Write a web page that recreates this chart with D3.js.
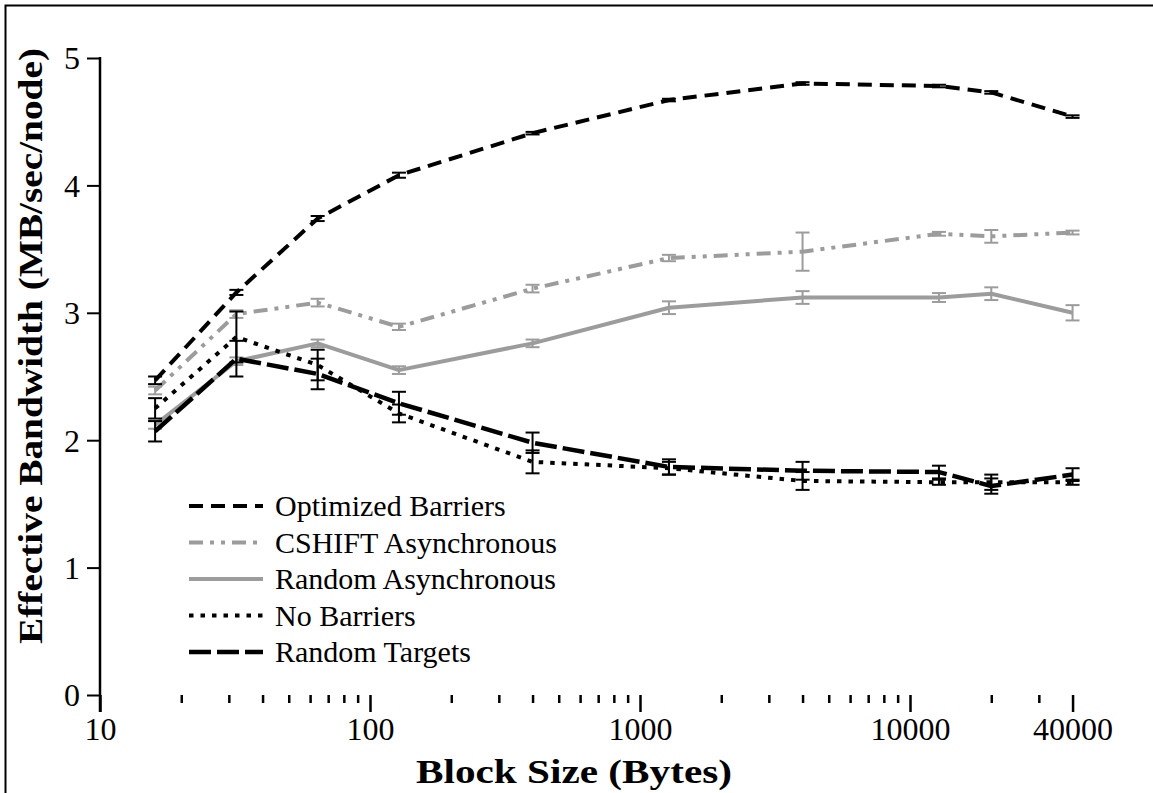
<!DOCTYPE html>
<html>
<head>
<meta charset="utf-8">
<script src="https://cdn.jsdelivr.net/npm/d3@7"></script>
<style>
  html, body { margin: 0; padding: 0; background: #fff; }
  svg { display: block; }
  text { font-family: "Liberation Serif", "Times New Roman", serif; fill: #000; }
</style>
</head>
<body>
<svg id="chart" width="1153" height="793"></svg>
<script>
// ---- data ----
const blockSizes = [16, 32, 64, 128, 400, 1280, 4000, 12800, 20000, 40000];

const seriesNames = ["Optimized Barriers", "CSHIFT Asynchronous", "Random Asynchronous", "No Barriers", "Random Targets"];

const optimizedBarriers    = [2.47, 3.16, 3.74, 4.08, 4.41, 4.67, 4.80, 4.78, 4.73, 4.54];
const optimizedBarriersErr = [0.03, 0.02, 0.02, 0.02, 0.01, 0.01, 0.01, 0.01, 0.01, 0.01];

const cshiftAsync    = [2.39, 2.99, 3.08, 2.89, 3.19, 3.43, 3.48, 3.62, 3.60, 3.63];
const cshiftAsyncErr = [0.03, 0.03, 0.03, 0.025, 0.03, 0.025, 0.15, 0.015, 0.05, 0.015];

const randomAsync    = [2.12, 2.62, 2.76, 2.55, 2.76, 3.04, 3.12, 3.12, 3.15, 3.00];
const randomAsyncErr = [0.03, 0.03, 0.03, 0.03, 0.03, 0.05, 0.05, 0.035, 0.05, 0.06];

const noBarriers    = [2.25, 2.81, 2.59, 2.21, 1.83, 1.78, 1.68, 1.67, 1.67, 1.67];
const noBarriersErr = [0.08, 0.20, 0.12, 0.07, 0.09, 0.05, 0.07, 0.02, 0.06, 0.02];

const randomTargets    = [2.07, 2.64, 2.52, 2.29, 1.98, 1.79, 1.76, 1.75, 1.64, 1.73];
const randomTargetsErr = [0.08, 0.14, 0.12, 0.09, 0.08, 0.06, 0.07, 0.05, 0.06, 0.05];

const yTicks = [0, 1, 2, 3, 4, 5];
const xMajorTicks = [10, 100, 1000, 10000, 40000];
const xMajorLabels = ["10", "100", "1000", "10000", "40000"];
const xMinorTicks = [20,30,40,50,60,70,80,90, 200,300,400,500,600,700,800,900,
                     2000,3000,4000,5000,6000,7000,8000,9000, 20000,30000];

const xTitle = "Block Size (Bytes)";
const yTitle = "Effective Bandwidth (MB/sec/node)";

// ---- styles ----
const styles = [
  { color: "#000",    width: 4,   dash: "14,8",            errColor: "#000" },
  { color: "#9c9c9c", width: 4,   dash: "14,7,4,7,4,7",    errColor: "#9c9c9c" },
  { color: "#9c9c9c", width: 4,   dash: null,              errColor: "#9c9c9c" },
  { color: "#000",    width: 4,   dash: "4.5,7",           errColor: "#000" },
  { color: "#000",    width: 4.5, dash: "22,6",            errColor: "#000" }
];
const values = [optimizedBarriers, cshiftAsync, randomAsync, noBarriers, randomTargets];
const errors = [optimizedBarriersErr, cshiftAsyncErr, randomAsyncErr, noBarriersErr, randomTargetsErr];

// ---- layout ----
const svg = d3.select("#chart");
const x = d3.scaleLog().domain([10, 40000]).range([100, 100 + 270 * Math.log10(4000)]);
const y = d3.scaleLinear().domain([0, 5]).range([695, 58]);

// frame
svg.append("path").attr("d", "M5.5,793 V5.5 H1153").attr("fill", "none").attr("stroke", "#000").attr("stroke-width", 2);

// y axis
const yAxis = svg.append("g").attr("transform", "translate(100,0)")
  .call(d3.axisLeft(y).tickValues(yTicks).tickFormat(d3.format("d")).tickSize(13).tickPadding(7));
yAxis.select(".domain").remove();
yAxis.selectAll(".tick line").attr("stroke", "#000").attr("stroke-width", 2);
yAxis.selectAll(".tick text").attr("font-size", 32).attr("font-family", "Liberation Serif, serif").attr("dy", "0.34em");
svg.append("line").attr("x1", 100).attr("x2", 100).attr("y1", y(5) - 1).attr("y2", 712)
  .attr("stroke", "#000").attr("stroke-width", 2.5);

// x axis
const xMinor = svg.append("g").attr("transform", "translate(0,695)")
  .call(d3.axisBottom(x).tickValues(xMinorTicks).tickFormat("").tickSize(8));
xMinor.select(".domain").remove();
xMinor.selectAll(".tick line").attr("stroke", "#000").attr("stroke-width", 2.5);

const xMajor = svg.append("g").attr("transform", "translate(0,695)")
  .call(d3.axisBottom(x).tickValues(xMajorTicks).tickFormat((d, i) => xMajorLabels[i]).tickSize(17).tickPadding(5));
xMajor.select(".domain").remove();
xMajor.selectAll(".tick line").attr("stroke", "#000").attr("stroke-width", 2.5);
xMajor.selectAll(".tick text").attr("font-size", 32).attr("font-family", "Liberation Serif, serif");

// titles
svg.append("text").attr("x", 574).attr("y", 783).attr("text-anchor", "middle")
  .attr("font-size", 34).attr("font-weight", "bold")
  .attr("textLength", 316).attr("lengthAdjust", "spacingAndGlyphs").text(xTitle);
svg.append("text").attr("transform", "translate(42,346) rotate(-90)").attr("text-anchor", "middle")
  .attr("font-size", 34).attr("font-weight", "bold")
  .attr("textLength", 596).attr("lengthAdjust", "spacingAndGlyphs").text(yTitle);

// series
const line = d3.line().x(d => x(d[0])).y(d => y(d[1]));
const order = [2, 1, 0, 3, 4];
order.forEach(si => {
  const st = styles[si];
  const pts = blockSizes.map((b, i) => [b, values[si][i], errors[si][i]]);
  const g = svg.append("g");
  // error bars
  pts.forEach(p => {
    const cx = x(p[0]), y1 = y(p[1] + p[2]), y2 = y(p[1] - p[2]);
    g.append("line").attr("x1", cx).attr("x2", cx).attr("y1", y1).attr("y2", y2)
      .attr("stroke", st.errColor).attr("stroke-width", 2);
    [y1, y2].forEach(yy => g.append("line").attr("x1", cx - 7).attr("x2", cx + 7).attr("y1", yy).attr("y2", yy)
      .attr("stroke", st.errColor).attr("stroke-width", 2));
  });
  g.append("path").datum(pts).attr("d", line).attr("fill", "none")
    .attr("stroke", st.color).attr("stroke-width", st.width)
    .attr("stroke-dasharray", st.dash).attr("stroke-linejoin", "round");
});

// legend
const legend = svg.append("g");
seriesNames.forEach((name, i) => {
  const st = styles[i];
  const yy = 506 + i * 36.5;
  legend.append("line").attr("x1", 189).attr("x2", 263).attr("y1", yy).attr("y2", yy)
    .attr("stroke", st.color).attr("stroke-width", st.width).attr("stroke-dasharray", st.dash);
  legend.append("text").attr("x", 275).attr("y", yy + 10).attr("font-size", 30).text(name);
});
</script>
</body>
</html>
